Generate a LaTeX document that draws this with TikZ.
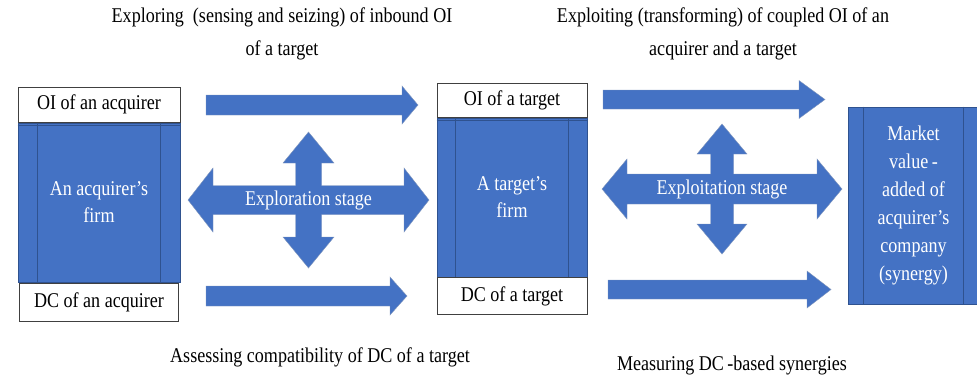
\documentclass[tikz,border=0pt]{standalone}
\usepackage{fontspec}
\setmainfont{Liberation Serif}[FakeStretch=0.86]
\usetikzlibrary{positioning,calc}
\definecolor{officeblue}{HTML}{4472C4}
\definecolor{officeline}{HTML}{2F528F}
\tikzset{
  whitebox/.style={draw=black!75, fill=white, inner sep=0pt, line width=0.8pt},
  firmbox/.style={draw=officeline, fill=officeblue, text=white, inner sep=0pt, align=center, line width=0.6pt},
  blockarrow/.style={fill=officeblue, draw=officeline!60, line width=0.4pt},
  note/.style={align=center, inner sep=0pt}
}
% block arrow: start, tip, shaft half height, head half height, head length
\newcommand{\flowarrow}[5]{%
  \draw[blockarrow] let \p1=(#1), \p2=(#2) in
    (\x1,\y1+#3pt) -- (\x2-#5pt,\y1+#3pt) -- (\x2-#5pt,\y1+#4pt) -- (\x2,\y2)
    -- (\x2-#5pt,\y1-#4pt) -- (\x2-#5pt,\y1-#3pt) -- (\x1,\y1-#3pt) -- cycle;
}
% four way arrow: centre, L, head length, head half height, shaft half height,
% M, head length, head half width, shaft half width
\newcommand{\stagecross}[9]{%
  \draw[blockarrow,shift={(#1)}]
    (#2,0) -- ({#2-#3},-#4) -- ({#2-#3},-#5) -- (#9,-#5) -- (#9,{-(#6-#7)})
    -- (#8,{-(#6-#7)}) -- (0,-#6) -- (-#8,{-(#6-#7)}) -- (-#9,{-(#6-#7)})
    -- (-#9,-#5) -- ({-(#2-#3)},-#5) -- ({-(#2-#3)},-#4) -- (-#2,0)
    -- ({-(#2-#3)},#4) -- ({-(#2-#3)},#5) -- (-#9,#5) -- (-#9,{#6-#7})
    -- (-#8,{#6-#7}) -- (0,#6) -- (#8,{#6-#7}) -- (#9,{#6-#7}) -- (#9,#5)
    -- ({#2-#3},#5) -- ({#2-#3},#4) -- cycle;
}
\begin{document}
\begin{tikzpicture}[x=1pt,y=-1pt,font=\fontsize{21}{27}\selectfont]
\useasboundingbox (0,0) rectangle (977,376);

% firms
\node[firmbox, minimum width=162pt, minimum height=159pt] (firmacq) at (99,202.5) {An acquirer's\\ firm};
\node[firmbox, minimum width=150pt, minimum height=159pt] (firmtgt) at (512,197.5) {A target's\\ firm};
\node[firmbox, minimum width=131pt, minimum height=197pt, font=\fontsize{21}{28}\selectfont] (market) at (913.5,205.5)
  {Market\\ value\,-\\ added of\\ acquirer's\\ company\\ (synergy)};
\foreach \b/\d in {firmacq/20,firmtgt/19,market/16}
{
\draw[officeline, line width=0.6pt] ([xshift=\d pt]\b.north west) -- ([xshift=\d pt]\b.south west);
\draw[officeline, line width=0.6pt] ([xshift=-\d pt]\b.north east) -- ([xshift=-\d pt]\b.south east);
}
\foreach \b in {firmacq,firmtgt}
{
\draw[officeline, line width=0.6pt] ([yshift=-3pt]\b.north west) -- ([yshift=-3pt]\b.north east);
}

% OI and DC
\node[whitebox, minimum width=162pt, minimum height=35pt, above=0pt of firmacq] (oiacq) {OI of an acquirer};
\node[whitebox, minimum width=159pt, minimum height=38pt, below=1pt of firmacq] (dcacq) {DC of an acquirer};
\node[whitebox, minimum width=150pt, minimum height=34pt, above=0pt of firmtgt] (oitgt) {OI of a target};
\node[whitebox, minimum width=150pt, minimum height=37pt, below=0pt of firmtgt] (dctgt) {DC of a target};

% arrows
\coordinate (a1s) at (206,105);   \coordinate (a1e) at (418,105);
\coordinate (a2s) at (206,296);   \coordinate (a2e) at (407,296);
\coordinate (a3s) at (603,99.5);  \coordinate (a3e) at (825,99.5);
\coordinate (a4s) at (608,289.5); \coordinate (a4e) at (831,289.5);
\flowarrow{a1s}{a1e}{10}{19}{16}
\flowarrow{a2s}{a2e}{10}{19}{17}
\flowarrow{a3s}{a3e}{9.5}{19}{26}
\flowarrow{a4s}{a4e}{9.5}{18.5}{24}

\coordinate (explore) at (308.5,200);
\coordinate (exploit) at (722,189);
\stagecross{explore}{120.5}{25}{32}{14.5}{68}{31}{25.5}{13}
\stagecross{exploit}{120}{25}{30}{15}{65}{30}{25}{11.5}
\node[text=white, inner sep=0pt] (explorelbl) at (explore) {Exploration stage};
\node[text=white, inner sep=0pt] (exploitlbl) at (exploit) {Exploitation stage};

% captions
\node[note, font=\fontsize{21}{33}\selectfont] (explorecap) at (282,33.5) {Exploring\ \ (sensing and seizing) of inbound OI\\ of a target};
\node[note, font=\fontsize{21}{33}\selectfont] (exploitcap) at (723,33.5) {Exploiting (transforming) of coupled OI of an\\ acquirer and a target};
\node[note] (assesscap) at (320,357) {Assessing compatibility of DC of a target};
\node[note] (measurecap) at (732,365) {Measuring DC\,-based synergies};
\end{tikzpicture}
\end{document}
